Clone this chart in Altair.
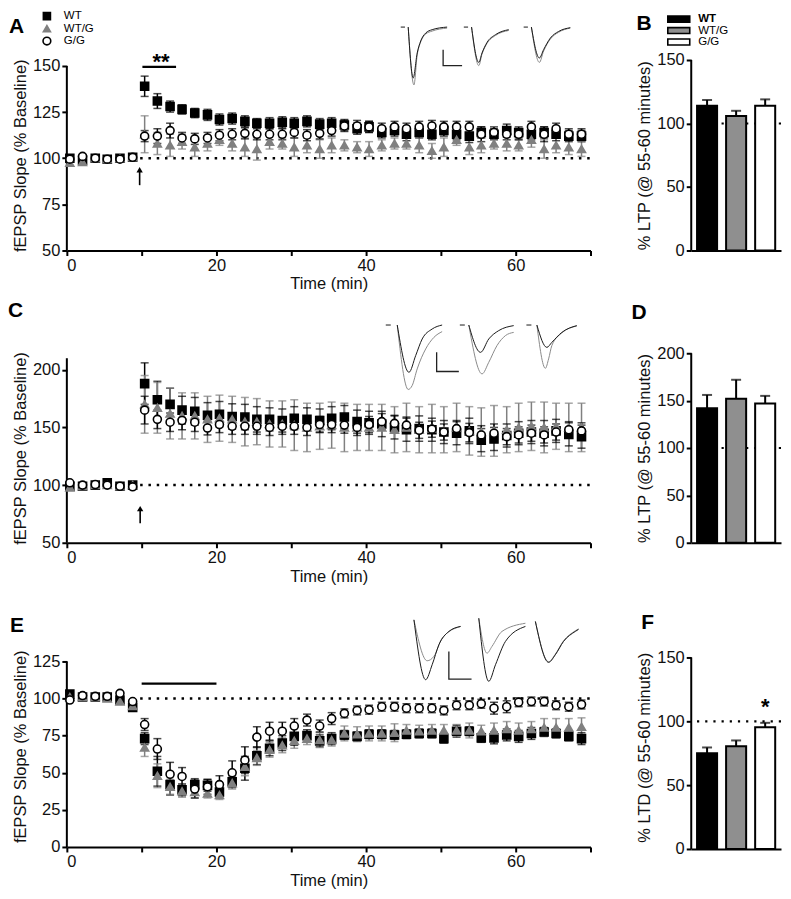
import altair as alt
import pandas as pd

FONT = "Liberation Sans"
GENO = ["WT", "WT/G", "G/G"]
PT_FILL = ["#000000", "#808080", "#ffffff"]
PT_STROKE = ["#000000", "#808080", "#000000"]
PT_SHAPE = ["square", "triangle-up", "circle"]
PT_SIZE = [64, 64, 78]
BAR_FILL = ["#000000", "#8f8f8f", "#ffffff"]
BAR_SHAPE = "M-3.667,-1H3.667V1H-3.667Z"

TIME_MIN = [0.4, 2.1, 3.8, 5.4, 7.1, 8.8, 10.4, 12.1, 13.8, 15.4, 17.1, 18.8, 20.4, 22.1,
            23.8, 25.4, 27.1, 28.8, 30.4, 32.1, 33.8, 35.4, 37.1, 38.8, 40.4, 42.1, 43.8,
            45.4, 47.1, 48.8, 50.4, 52.1, 53.8, 55.4, 57.1, 58.8, 60.4, 62.1, 63.8, 65.4,
            67.1, 68.8]

# ---- Panel A (LTP) ----
A_WT = [100, 99, 100, 99.5, 100, 100.5,
        139, 131, 128, 126.5, 124.5, 123.5, 121, 121.5, 120, 119, 119, 119.5, 119, 120,
        118.5, 119, 118, 116, 117, 114, 115, 113, 114, 113, 115, 113, 112, 114, 113, 115,
        114, 113, 114, 113, 112, 112]
A_WT_ERR = [1, 1, 0.5, 0.5, 0.5, 1,
            5.5, 4, 3, 2.5, 2.5, 3,
            3, 3, 3, 2.5, 3, 3,
            3, 3, 3, 3, 3, 3,
            3, 3, 3, 3.5, 3, 3,
            3, 3, 3.5, 3, 3, 3.5,
            3, 3, 3, 3.5, 3, 3]
A_WTG = [97.5, 98, 100, 99.5, 100, 100.5,
         113, 108, 107, 109, 106, 108, 110, 108, 106, 105, 109, 108, 106, 107, 105, 107,
         107, 106, 105, 107, 108, 108, 107, 104, 106, 110, 106, 107, 108, 108, 107, 110,
         105, 107, 106, 105]
A_WTG_ERR = [1.5, 1, 0.5, 0.5, 0.5, 1,
             10, 6, 6, 4, 5, 4,
             3, 4, 5, 6, 4, 3,
             5, 4, 5, 4, 3, 3,
             4, 3, 3, 3, 4, 4,
             5, 3, 4, 4, 3, 4,
             3, 4, 5, 4, 4, 4]
A_GG = [99.5, 101, 100, 99.5, 99.5, 100.5,
        112, 112, 115, 111, 110.5, 111, 112.5, 113, 113.5, 113, 113, 113, 114, 112.5,
        113.5, 115, 117.5, 117.5, 117, 116, 117, 116, 117, 117.5, 117, 117, 117, 113, 114,
        113, 113, 117, 113, 116, 113, 113]
A_GG_ERR = [1, 1, 0.5, 0.5, 0.5, 1,
            3, 4, 4, 3, 3, 3,
            3, 3, 3, 3, 3, 3,
            3, 3, 3, 3, 3, 3,
            3, 3, 3, 3, 3, 3,
            3, 3, 3, 4, 3, 3,
            3, 3, 4, 3, 3, 3]

# ---- Panel C (LTP) ----
C_WT = [99, 99, 100, 102, 99, 100,
        188, 174, 170, 165, 164, 160.5, 161.5, 159.5, 159, 157, 157, 156, 158, 157, 156,
        158, 159, 155, 154, 153, 150, 148, 149, 148, 146, 145, 147, 139, 140, 143, 145,
        146, 145, 147, 144, 142]
C_WT_ERR = [2, 1, 1, 2, 1, 1,
            18, 16, 14, 12, 12, 11,
            11, 11, 11, 11, 10, 10,
            10, 10, 10, 10, 10, 10,
            10, 11, 10, 10, 11, 10,
            10, 10, 11, 10, 10, 10,
            10, 10, 11, 10, 10, 10]
C_WTG = [98, 99, 100, 100, 99, 100,
         170, 167, 162, 160, 160, 157, 158, 157, 155, 155, 153, 153, 152, 150, 151, 152,
         150, 150, 150, 150, 148, 150, 148, 149, 148, 150, 147, 146, 147, 148, 150, 151,
         150, 151, 150, 150]
C_WTG_ERR = [2, 1, 1, 1, 1, 1,
             25, 22, 22, 20, 20, 20,
             20, 20, 21, 20, 20, 20,
             22, 21, 20, 20, 21, 20,
             20, 20, 20, 21, 20, 21,
             20, 21, 21, 21, 22, 20,
             21, 21, 22, 20, 21, 21]
C_GG = [102, 100, 100.5, 100, 99, 98.5,
        165, 157, 154.5, 156, 154.5, 149.5, 152.5, 151, 151, 151, 150, 151, 151, 150,
        152.5, 152.5, 152, 150, 152.5, 155, 153.5, 152, 147.5, 148.5, 146, 149, 145.5,
        143.5, 145, 142, 143.5, 145, 143.5, 146, 148, 147]
C_GG_ERR = [1, 1, 1, 1, 1, 1,
            12, 8, 8, 8, 8, 6,
            7, 7, 7, 7, 7, 7,
            7, 7, 7, 7, 7, 7,
            7, 7, 7, 7, 7, 7,
            7, 7, 8, 8, 8, 7,
            7, 7, 7, 7, 7, 7]

# ---- Panel E (LTD) ----
E_WT = [103, 101, 101, 101, 99, 94,
        73, 51, 42, 38.5, 42, 41.5, 37, 44, 53, 61.5, 66.5, 70, 74.5, 75, 71.5, 73, 75.5,
        74.5, 76, 76, 75.5, 76, 76.5, 76.5, 73, 78, 78, 73.5, 73.5, 75.5, 74.5, 76.5,
        77.5, 76.5, 74.5, 73]
E_WT_ERR = [1, 1, 1, 1, 1, 1.5,
            4, 10, 7, 4, 4, 4,
            3, 4, 8, 6, 5, 5,
            6, 4, 4, 4, 3, 3,
            3, 3, 3, 3, 3, 3,
            3, 4, 3, 3, 4, 4,
            4, 4, 3, 3, 3, 4]
E_WTG = [101, 101, 101, 100, 98, 95,
         67, 48, 40.5, 37.5, 37, 36, 35, 43, 54, 60, 65.5, 68.5, 71.5, 73, 72, 72, 76.5,
         76, 76.5, 76.5, 77, 78.5, 78, 78.5, 78.5, 78.5, 78.5, 78, 78.5, 79.5, 78.5, 79.5,
         80.5, 80.5, 80.5, 81]
E_WTG_ERR = [1, 1, 1, 1, 1.5, 1.5,
             6, 8, 5, 4, 4, 3,
             3, 4, 6, 5, 5, 5,
             5, 4, 5, 4, 5, 5,
             5, 5, 6, 4, 4, 4,
             4, 4, 5, 4, 5, 5,
             5, 5, 6, 6, 6, 6]
E_GG = [99, 102, 101.5, 101.5, 103.5, 98,
        82.5, 66, 49, 47.5, 39, 40.5, 42, 50, 58.5, 74, 78, 78, 81.5, 85.5, 81.5, 86.5,
        90, 92, 92.5, 94.5, 94.5, 93.5, 93.5, 93.5, 92, 95.5, 95.5, 96.5, 93.5, 94.5,
        97.5, 98, 98, 95.5, 94.5, 96]
E_GG_ERR = [1, 1, 1, 1, 1, 1,
            4, 7, 8, 6, 6, 5,
            6, 8, 9, 7, 6, 6,
            5, 4, 4, 4, 3, 3,
            3, 3, 3, 3, 3, 3,
            3, 3, 3, 3, 4, 4,
            3, 3, 3, 3, 3, 3]

# ---- Bar summaries (mean, SEM) ----
B_VALS = [114, 106, 114]
B_ERR = [4.5, 4, 5]
D_VALS = [142, 152, 147]
D_ERR = [14, 20, 8]
F_VALS = [75, 80.5, 95.3]
F_ERR = [4.5, 4.5, 3.5]

# ---- Sample fEPSP traces (time ms, amplitude mV): kind, t, v ----
A_TRACES = [
    ("black", [1.9, 3.6], [0, 0]),
    ("gray", [4.9, 7.2, 8.5, 9.9, 11.9, 14.5, 20.5], [0, -2.9, -1.4, -0.75, -0.35, -0.2, -0.05]),
    ("black", [4.9, 6.9, 8.5, 9.9, 11.9, 14.5, 20.5], [0, -2.55, -1.3, -0.7, -0.3, -0.13, 0]),
    ("bar", [18.9, 18.9, 26.5], [-1.13, -1.93, -1.93]),
    ("black", [27.2, 28.9], [0, 0]),
    ("gray", [30.3, 33.2, 34.5, 36.5, 39.9, 45.2], [0, -1.93, -1.35, -0.82, -0.42, -0.17]),
    ("black", [30.3, 33.2, 34.5, 36.5, 39.9, 45.2], [0, -1.77, -1.3, -0.77, -0.38, -0.13]),
    ("black", [51.2, 52.9], [0, 0]),
    ("gray", [54.3, 57.5, 59.2, 61.9, 65.2, 69.9], [0, -1.77, -1.2, -0.6, -0.26, -0.05]),
    ("black", [54.3, 57.5, 59.2, 61.9, 65.2, 69.9], [0, -1.55, -1.13, -0.55, -0.22, -0.03]),
]
C_TRACES = [
    ("black", [1.9, 3.9], [0, 0]),
    ("gray", [6.5, 10.9, 12.5, 14.5, 17.9, 21.2, 24.5], [0, -3.23, -3.03, -2.2, -1.2, -0.62, -0.33]),
    ("black", [6.5, 11.2, 13.9, 16.5, 20.5, 24.5], [0, -2.37, -1.53, -0.7, -0.2, 0]),
    ("bar", [22.3, 22.3, 31.2], [-1.37, -2.33, -2.33]),
    ("black", [31.6, 33.6], [0, 0]),
    ("gray", [35.2, 40.5, 43.2, 46.5, 49.9, 53.2], [0, -2.45, -1.87, -1.03, -0.53, -0.37]),
    ("black", [35.2, 39.9, 43.2, 47.2, 53.2], [0, -1.37, -0.7, -0.28, -0.03]),
    ("black", [58.3, 60.3], [0, 0]),
    ("gray", [62.5, 65.9, 67.2, 68.5, 72.5, 78.5], [0, -2.17, -1.7, -1.03, -0.4, -0.05]),
    ("black", [62.5, 66.5, 68.5, 72.5, 78.5], [0, -1.12, -0.87, -0.37, -0.03]),
]
E_TRACES = [
    ("gray", [2, 7.3, 10, 13.3, 20.7], [0, -2.05, -1.83, -0.92, -0.33]),
    ("black", [2, 6.7, 9.3, 12, 16, 20.7], [0, -3.0, -2.25, -1.25, -0.58, -0.33]),
    ("bar", [16, 16, 25.1], [-1.58, -2.97, -2.97]),
    ("gray", [28, 31.3, 33.3, 37.3, 46.7], [0.08, -1.67, -1.33, -0.58, -0.17]),
    ("black", [28, 32, 34.7, 38.7, 46.7], [0.08, -3.08, -2.25, -1.08, -0.33]),
    ("gray", [50.7, 56, 58.7, 62, 66.7, 68], [-0.08, -2.1, -1.72, -1.05, -0.55, -0.45]),
    ("black", [50.7, 56, 58.7, 62, 66.7, 68], [-0.08, -2.13, -1.75, -1.08, -0.58, -0.48]),
]

for arr in [A_WT, A_WT_ERR, A_WTG, A_WTG_ERR, A_GG, A_GG_ERR, C_WT, C_WT_ERR, C_WTG,
            C_WTG_ERR, C_GG, C_GG_ERR, E_WT, E_WT_ERR, E_WTG, E_WTG_ERR, E_GG, E_GG_ERR]:
    assert len(arr) == len(TIME_MIN), len(arr)

TRACE_PX_PER_MV = 20


def series_df(vals, errs):
    rows = []
    for g, v, e in zip(GENO, vals, errs):
        for t, y, s in zip(TIME_MIN, v, e):
            rows.append({"t": t, "y": y, "lo": y - s, "hi": y + s, "g": g})
    return pd.DataFrame(rows)


def trace_df(traces):
    rows = []
    for k, (kind, ts, vs) in enumerate(traces):
        for i, (t, v) in enumerate(zip(ts, vs)):
            rows.append({"seg": k, "i": i, "kind": kind, "t": t, "v": v})
    return pd.DataFrame(rows)


def one(**kw):
    return pd.DataFrame({k: [v] for k, v in kw.items()})


def letter(txt, dx, dy):
    return alt.Chart(one(s=txt)).mark_text(
        font=FONT, fontSize=21, fontWeight="bold", align="left", baseline="alphabetic",
        color="black").encode(text="s:N", x=alt.value(dx), y=alt.value(dy))


def key(entries, sym_x, txt_x, y0, dy, font_size, shapes, sizes, fills, strokes, weights):
    out = []
    for k, lab in enumerate(entries):
        yy = y0 + k * dy
        out.append(alt.Chart(one(s=lab)).mark_point(
            shape=shapes[k], size=sizes[k], fill=fills[k], stroke=strokes[k],
            strokeWidth=1.6, opacity=1).encode(x=alt.value(sym_x), y=alt.value(yy)))
        out.append(alt.Chart(one(s=lab)).mark_text(
            font=FONT, fontSize=font_size, fontWeight=weights[k], align="left",
            baseline="middle", color="black").encode(
            text="s:N", x=alt.value(txt_x), y=alt.value(yy)))
    return out


def time_panel(vals, errs, ydom, axis_top, yticks, height, traces, tx_dom, trace_p0, let,
               extra, with_key):
    df = series_df(vals, errs)
    xs = alt.Scale(domain=[0, 70], nice=False, zero=False)
    ys = alt.Scale(domain=ydom, nice=False, zero=False)
    xax = alt.Axis(values=[0, 10, 20, 30, 40, 50, 60, 70],
                   labelExpr="datum.value % 20 === 0 ? datum.label : ''",
                   title="Time (min)", titlePadding=2)
    yax = alt.Axis(values=yticks, title="fEPSP Slope (% Baseline)", domain=False)

    def X(f):
        return alt.X(f, type="quantitative", scale=xs, axis=xax)

    def Y(f):
        return alt.Y(f, type="quantitative", scale=ys, axis=yax)

    ecol = alt.Color("g:N", scale=alt.Scale(domain=GENO, range=PT_STROKE), legend=None)
    base = alt.Chart(df)
    yline = alt.Chart(one(x=0, y=ydom[0], y2=axis_top)).mark_rule(
        color="black", strokeWidth=2).encode(x=X("x"), y=Y("y"), y2="y2:Q")
    dots = alt.Chart(one(x=9.8, x2=70, y=100)).mark_rule(
        color="black", strokeWidth=2.5, strokeDash=[2.5, 5.8]).encode(x=X("x"), x2="x2:Q", y=Y("y"))
    rules = base.mark_rule(strokeWidth=1.5).encode(x=X("t"), y=Y("lo"), y2="hi:Q", color=ecol)
    caps = base.transform_fold(["lo", "hi"], as_=["end", "ey"]).mark_tick(
        orient="horizontal", size=8, thickness=1.5).encode(x=X("t"), y=Y("ey"), color=ecol)
    pts = base.mark_point(opacity=1, strokeWidth=1.6).encode(
        x=X("t"), y=Y("y"),
        shape=alt.Shape("g:N", scale=alt.Scale(domain=GENO, range=PT_SHAPE), legend=None),
        fill=alt.Fill("g:N", scale=alt.Scale(domain=GENO, range=PT_FILL), legend=None),
        stroke=alt.Stroke("g:N", scale=alt.Scale(domain=GENO, range=PT_STROKE), legend=None),
        size=alt.Size("g:N", scale=alt.Scale(domain=GENO, range=PT_SIZE), legend=None))
    ann = []
    for kind, d in extra:
        if kind == "hbar":
            ann.append(alt.Chart(one(**d)).mark_rule(color="black", strokeWidth=2.2).encode(
                x=X("x"), x2="x2:Q", y=Y("y")))
        elif kind == "text":
            ann.append(alt.Chart(one(x=d["x"], y=d["y"], s=d["s"])).mark_text(
                font=FONT, fontSize=d["size"], fontWeight="bold", baseline="alphabetic",
                color="black").encode(x=X("x"), y=Y("y"), text="s:N"))
        elif kind == "arrow":
            ann.append(alt.Chart(one(x=d["x"], y=d["y0"], y2=d["y1"])).mark_rule(
                color="black", strokeWidth=1.6).encode(x=X("x"), y=Y("y"), y2="y2:Q"))
            ann.append(alt.Chart(one(x=d["x"], y=d["head"])).mark_point(
                shape="triangle-up", filled=True, size=40, color="black", opacity=1).encode(
                x=X("x"), y=Y("y")))
    main = alt.layer(yline, dots, *ann, rules, caps, pts)

    tdf = trace_df(traces)
    hi = trace_p0 / TRACE_PX_PER_MV
    txs = alt.Scale(domain=tx_dom, nice=False, zero=False)
    tys = alt.Scale(domain=[hi - height / TRACE_PX_PER_MV, hi], nice=False, zero=False)

    def tl(kind, color, width, interp):
        return alt.Chart(tdf).transform_filter(alt.datum.kind == kind).mark_line(
            color=color, strokeWidth=width, interpolate=interp).encode(
            x=alt.X("t:Q", scale=txs, axis=None), y=alt.Y("v:Q", scale=tys, axis=None),
            detail="seg:N", order="i:Q")

    tr = alt.layer(tl("gray", "#8a8a8a", 1, "monotone"), tl("black", "#1a1a1a", 1, "monotone"),
                   tl("bar", "#222222", 1.3, "linear"))
    extras = [letter(*let)]
    if with_key:
        extras += key(GENO, -20, -3, -44, 12.5, 11.5, PT_SHAPE, [50, 50, 60],
                      PT_FILL, PT_STROKE, ["normal", "normal", "normal"])
    return alt.layer(main, tr, *extras).resolve_scale(
        x="independent", y="independent").properties(width=525, height=height)


def bar_panel(vals, errs, ydom, axis_top, yticks, height, title, let, star, with_key):
    df = pd.DataFrame({"g": GENO, "v": vals, "hi": [v + e for v, e in zip(vals, errs)]})
    xs = alt.Scale(domain=GENO, paddingInner=0.31, paddingOuter=0.2)
    xax = alt.Axis(title=None, labels=False, ticks=False)
    ys = alt.Scale(domain=ydom, nice=False)
    yax = alt.Axis(values=yticks, title=title, domain=False)
    X = alt.X("g:N", scale=xs, axis=xax, sort=GENO)

    def Y(f):
        return alt.Y(f, type="quantitative", scale=ys, axis=yax)

    base = alt.Chart(df)
    yline = alt.Chart(one(y=ydom[0], y2=axis_top)).mark_rule(
        color="black", strokeWidth=2).encode(x=alt.value(0), y=Y("y"), y2="y2:Q")
    dots = alt.Chart(one(y=100)).mark_rule(color="black", strokeWidth=2.2,
                                            strokeDash=[2.2, 6]).encode(y=Y("y"))
    bars = base.mark_bar(stroke="black", strokeWidth=2).encode(
        x=X, y=Y("v"),
        fill=alt.Fill("g:N", scale=alt.Scale(domain=GENO, range=BAR_FILL), legend=None))
    err = base.mark_rule(strokeWidth=2, color="black").encode(x=X, y=Y("v"), y2="hi:Q")
    cap = base.mark_tick(orient="horizontal", size=10, thickness=2, color="black").encode(
        x=X, y=Y("hi"))
    layers = [dots, bars, err, cap, yline, letter(*let)]
    if star is not None:
        layers.append(alt.Chart(one(g=star[0], y=star[1], s="*")).mark_text(
            font=FONT, fontSize=22, fontWeight="bold", baseline="alphabetic", color="black").encode(
            x=X, y=Y("y"), text="s:N"))
    if with_key:
        layers += key(GENO, -12.5, 7, -41, 11.5, 11.5, [BAR_SHAPE] * 3, [36, 36, 36],
                      BAR_FILL, ["black"] * 3, ["bold", "normal", "normal"])
    return alt.layer(*layers).properties(width=90, height=height)


pA = time_panel([A_WT, A_WTG, A_GG], [A_WT_ERR, A_WTG_ERR, A_GG_ERR], [50, 153.243], 150,
                [50, 75, 100, 125, 150], 191, A_TRACES, [-132, 78], -33,
                ("A", -58, -27),
                [("hbar", {"x": 10.1, "x2": 14.6, "y": 149.5}),
                 ("text", {"x": 12.6, "y": 148.6, "s": "**", "size": 22}),
                 ("arrow", {"x": 9.73, "y0": 85.4, "y1": 93.0, "head": 93.8})],
                True)
pC = time_panel([C_WT, C_WTG, C_GG], [C_WT_ERR, C_WTG_ERR, C_GG_ERR], [50, 214.32], 210,
                [50, 100, 150, 200], 190, C_TRACES, [-126, 84], -28.3,
                ("C", -59, -36),
                [("arrow", {"x": 9.8, "y0": 67, "y1": 78.5, "head": 79.6})],
                False)
pE = time_panel([E_WT, E_WTG, E_GG], [E_WT_ERR, E_WTG_ERR, E_GG_ERR], [0, 135.75], 125,
                [0, 25, 50, 75, 100, 125], 202, E_TRACES, [-137.2, 72.8], -25.7,
                ("E", -57, -14),
                [("hbar", {"x": 10, "x2": 20, "y": 110})],
                False)
pB = bar_panel(B_VALS, B_ERR, [0, 150], 150, [0, 50, 100, 150], 191,
               "% LTP (@ 55-60 minutes)", ("B", -55, -30), None, True)
pD = bar_panel(D_VALS, D_ERR, [0, 200], 200, [0, 50, 100, 150, 200], 190,
               "% LTP (@ 55-60 minutes)", ("D", -60, -34), None, False)
pF = bar_panel(F_VALS, F_ERR, [0, 159.375], 150, [0, 50, 100, 150], 204,
               "% LTD (@ 55-60 minutes)", ("F", -50, -17), ("G/G", 105.7), False)

chart = alt.concat(pA, pB, pC, pD, pE, pF, columns=2,
                   spacing={"row": 103, "column": 101}, bounds="flush"
                   ).resolve_scale(color="independent", fill="independent",
                                   stroke="independent", shape="independent",
                                   size="independent"
                   ).configure_view(stroke=None).configure_axis(
    domainColor="black", domainWidth=2, tickColor="black", tickWidth=2, tickSize=5,
    labelFont=FONT, labelFontSize=16.5, labelColor="#111111", titleFont=FONT,
    titleFontSize=16.5, titleFontWeight="normal", titleColor="#111111", grid=False,
    labelPadding=2).properties(padding={"left": 0, "top": 0, "right": 0, "bottom": 0})

chart.save("out.html", embed_options={"renderer": "svg", "actions": False})
